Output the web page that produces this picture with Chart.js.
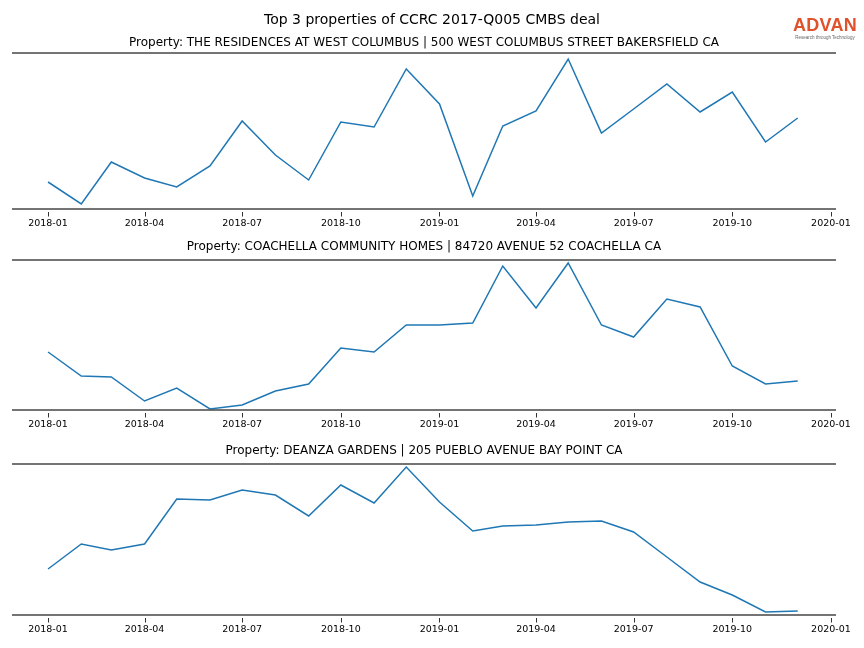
<!DOCTYPE html>
<html>
<head>
<meta charset="utf-8">
<script src="https://cdn.jsdelivr.net/npm/chart.js@4/dist/chart.umd.min.js"></script>
<style>
  body { margin: 0; background: #fff; }
  #fig { position: relative; width: 864px; height: 648px; overflow: hidden; font-family: "DejaVu Sans", sans-serif; }
  #fig canvas { position: absolute; left: 0; top: 0; }
  #suptitle { position: absolute; left: 0; width: 864px; top: 11px; line-height: 16px; text-align: center; font-size: 14px; color: #000; }
  #logo { position: absolute; left: 789px; top: 16px; width: 72px; text-align: center; font-family: "Liberation Sans", Arial, sans-serif; }
  #logo .brand { font-size: 18px; font-weight: bold; color: #e0522b; line-height: 19px; letter-spacing: 0.3px; }
  #logo .tag { font-size: 4.5px; color: #666; line-height: 5px; white-space: nowrap; }
</style>
</head>
<body>
<div id="fig">
  <canvas id="c1" width="864" height="648"></canvas>
  <canvas id="c2" width="864" height="648"></canvas>
  <canvas id="c3" width="864" height="648"></canvas>
  <div id="suptitle">Top 3 properties of CCRC 2017-Q005 CMBS deal</div>
  <div id="logo"><div class="brand">ADVAN</div><div class="tag">Research through Technology</div></div>
</div>
<script>
// months of data
const months = ['2018-01','2018-02','2018-03','2018-04','2018-05','2018-06','2018-07','2018-08','2018-09','2018-10','2018-11','2018-12',
                '2019-01','2019-02','2019-03','2019-04','2019-05','2019-06','2019-07','2019-08','2019-09','2019-10','2019-11','2019-12'];
const tickLabels = ['2018-01','2018-04','2018-07','2018-10','2019-01','2019-04','2019-07','2019-10','2020-01'];

const titles = [
  'Property: THE RESIDENCES AT WEST COLUMBUS | 500 WEST COLUMBUS STREET BAKERSFIELD CA',
  'Property: COACHELLA COMMUNITY HOMES | 84720 AVENUE 52 COACHELLA CA',
  'Property: DEANZA GARDENS | 205 PUEBLO AVENUE BAY POINT CA'
];

// estimated visit counts
const visitsColumbus = [27, 5, 47, 31, 22, 43, 88, 54, 29, 87, 82, 140, 105, 13, 83, 98, 150, 76, 100, 125, 97, 117, 67, 91];
const visitsCoachella = [58, 34, 33, 9, 22, 1, 5, 19, 26, 62, 58, 85, 85, 87, 144, 102, 147, 85, 73, 111, 103, 44, 26, 29];
const visitsDeanza = [46, 71, 65, 71, 116, 115, 125, 120, 99, 130, 112, 148, 113, 84, 89, 90, 93, 94, 83, 58, 33, 20, 3, 4];

const series = [visitsColumbus, visitsCoachella, visitsDeanza];
const yMax = [156, 150, 151];
const panelTop = [53, 260, 464];
const panelBottom = [209, 410, 615];
const titleGap = [7, 10, 10];

const base = Date.UTC(2018, 0, 1);
function dayOf(ym) {
  const p = ym.split('-');
  return (Date.UTC(+p[0], +p[1] - 1, 1) - base) / 86400000;
}
const tickDays = tickLabels.map(dayOf);

const spinesPlugin = {
  id: 'spines',
  afterDraw(chart, args, opts) {
    const a = chart.chartArea;
    const ctx = chart.ctx;
    const xs = chart.scales.x;
    ctx.save();
    // top and bottom spines
    ctx.strokeStyle = '#474747';
    ctx.lineWidth = 1.7;
    ctx.beginPath();
    ctx.moveTo(a.left, a.top); ctx.lineTo(a.right, a.top);
    ctx.moveTo(a.left, a.bottom); ctx.lineTo(a.right, a.bottom);
    ctx.stroke();
    // tick marks, a little below the spine
    ctx.strokeStyle = '#333';
    ctx.lineWidth = 1;
    ctx.beginPath();
    tickDays.forEach(d => {
      const px = Math.round(xs.getPixelForValue(d)) + 0.5;
      ctx.moveTo(px, a.bottom + 3);
      ctx.lineTo(px, a.bottom + 7.5);
    });
    ctx.stroke();
    // panel title
    ctx.fillStyle = '#000';
    ctx.font = '12px "DejaVu Sans"';
    ctx.textAlign = 'center';
    ctx.textBaseline = 'alphabetic';
    ctx.fillText(opts.text, (a.left + a.right) / 2, a.top - opts.gap);
    ctx.restore();
  }
};

function makePanel(id, i) {
  const H = 648;
  const axisH = 24;
  new Chart(document.getElementById(id), {
    type: 'line',
    data: {
      datasets: [{
        data: months.map((m, k) => ({ x: dayOf(m), y: series[i][k] })),
        borderColor: '#1f77b4',
        borderWidth: 1.5,
        pointRadius: 0,
        tension: 0,
        fill: false
      }]
    },
    options: {
      responsive: false,
      animation: false,
      layout: { padding: { left: 12, right: 28, top: panelTop[i], bottom: H - panelBottom[i] - axisH } },
      plugins: {
        legend: { display: false },
        tooltip: { enabled: false },
        spines: { text: titles[i], gap: titleGap[i] }
      },
      scales: {
        x: {
          type: 'linear',
          min: -33.6,
          max: 734.7,
          afterBuildTicks: (axis) => { axis.ticks = tickDays.map(v => ({ value: v })); },
          afterFit: (axis) => { axis.height = axisH; },
          border: { display: false },
          grid: { drawOnChartArea: false, drawTicks: false },
          ticks: {
            autoSkip: false,
            maxRotation: 0,
            padding: 9,
            color: '#000',
            font: { family: 'DejaVu Sans', size: 9.5 },
            callback: (v) => tickLabels[tickDays.indexOf(v)]
          }
        },
        y: {
          display: false,
          min: 0,
          max: yMax[i]
        }
      }
    },
    plugins: [spinesPlugin]
  });
}

makePanel('c1', 0);
makePanel('c2', 1);
makePanel('c3', 2);
</script>
</body>
</html>
